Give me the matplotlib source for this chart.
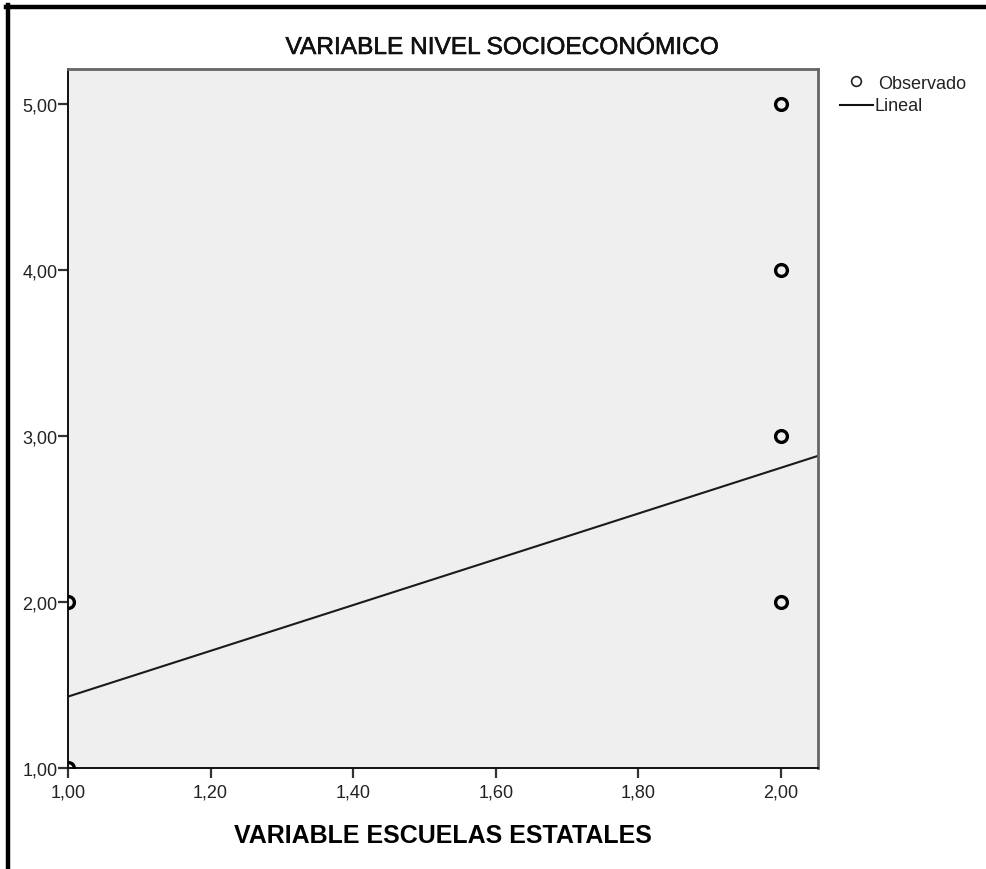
import numpy as np
import matplotlib
matplotlib.use("Agg")
import matplotlib.pyplot as plt
import matplotlib.patheffects as pe
from matplotlib.ticker import FuncFormatter
from matplotlib.lines import Line2D

plt.rcParams['font.family'] = ['Liberation Sans', 'DejaVu Sans']

# observed values (escuelas estatales vs nivel socioeconomico)
obs_x = [1.0, 1.0, 2.0, 2.0, 2.0, 2.0]
obs_y = [1.0, 2.0, 2.0, 3.0, 4.0, 5.0]

# linear fit, read at both ends of the axis
fit_x = [1.0, 2.052]
fit_y = [1.43, 2.88]

x_ticks = [1.0, 1.2, 1.4, 1.6, 1.8, 2.0]
y_ticks = [1.0, 2.0, 3.0, 4.0, 5.0]

W, H = 986, 870
fig = plt.figure(figsize=(W / 100, H / 100), dpi=100)
fig.patch.set_facecolor('white')

ax = fig.add_axes([68 / W, 1 - 769 / H, 750 / W, 699 / H])
ax.set_facecolor('#efefef')
ax.set_xlim(1.0, 2.052)
ax.set_ylim(1.0, 5.21)

ax.plot(fit_x, fit_y, color='#1a1a1a', lw=1.5, zorder=2)
ax.plot(obs_x, obs_y, ls='none', marker='o', ms=8.5, mfc='none',
        mec='black', mew=2.4, zorder=3)

ax.set_xticks(x_ticks)
ax.set_yticks(y_ticks)
comma = FuncFormatter(lambda v, p: f"{v:.2f}".replace('.', ','))
ax.xaxis.set_major_formatter(comma)
ax.yaxis.set_major_formatter(comma)
ax.tick_params(direction='out', length=7.5, width=1.6, color='#333333',
               labelsize=13, labelcolor='#222222')
ax.tick_params(axis='x', pad=4)
ax.tick_params(axis='y', pad=0)

for s in ['left', 'bottom']:
    ax.spines[s].set_color('#111111')
    ax.spines[s].set_linewidth(1.4)
for s in ['top', 'right']:
    ax.spines[s].set_color('#666666')
    ax.spines[s].set_linewidth(2.0)

ax.set_xlabel('VARIABLE ESCUELAS ESTATALES', fontsize=18, fontweight='bold',
              labelpad=16)

fig.text(501 / W, 1 - 55 / H, 'VARIABLE NIVEL SOCIOECONÓMICO', fontsize=17.6,
         ha='center', va='baseline', color='#111111',
         path_effects=[pe.withStroke(linewidth=0.4, foreground='#111111')])

# legend
fig.add_artist(Line2D([856 / W], [1 - 82 / H], marker='o', ms=7, mfc='none',
                      mec='#222222', mew=1.2, transform=fig.transFigure))
fig.text(878 / W, 1 - 89 / H, 'Observado', fontsize=13, va='baseline',
         color='#222222')
fig.add_artist(Line2D([840 / W, 873 / W], [1 - 106 / H, 1 - 106 / H],
                      color='#111111', lw=1.5, transform=fig.transFigure))
fig.text(875 / W, 1 - 111 / H, 'Lineal', fontsize=13, va='baseline',
         color='#222222')

# black frame on left and top
fig.add_artist(Line2D([8 / W, 8 / W], [0, 1 - 6 / H], color='black', lw=3.2,
                      transform=fig.transFigure))
fig.add_artist(Line2D([6 / W, 1], [1 - 8 / H, 1 - 8 / H], color='black', lw=3.2,
                      transform=fig.transFigure))

fig.savefig('out.png', dpi=100)
